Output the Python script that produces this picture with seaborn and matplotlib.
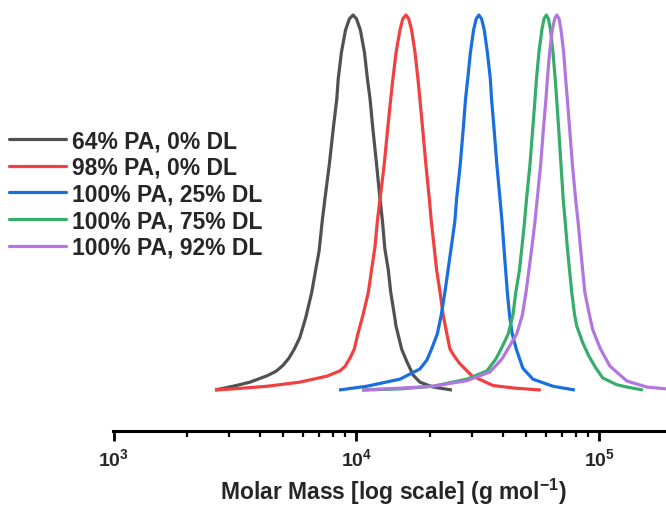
import matplotlib
matplotlib.use("Agg")
import matplotlib.pyplot as plt
import seaborn as sns
import pandas as pd
import numpy as np
from matplotlib.ticker import LogLocator, FuncFormatter, NullFormatter

# ---- data: log10(molar mass / g mol^-1) and normalised signal ----
labels = ["64% PA, 0% DL", "98% PA, 0% DL", "100% PA, 25% DL",
          "100% PA, 75% DL", "100% PA, 92% DL"]
colors = ["#515151", "#F14040", "#1A6FDF", "#37AD6B", "#B177DE"]

logmm_64pa_0dl = [3.418, 3.492, 3.562, 3.632, 3.669, 3.698, 3.722, 3.744, 3.767, 3.792,
                  3.816, 3.832, 3.846, 3.859, 3.870, 3.888, 3.905, 3.919, 3.925, 3.938,
                  3.955, 3.971, 3.986, 4.000, 4.016, 4.033, 4.045, 4.056, 4.067, 4.083,
                  4.097, 4.107, 4.117, 4.131, 4.141, 4.156, 4.163, 4.186, 4.208, 4.233,
                  4.261, 4.315, 4.393]
sig_64pa_0dl = [0, 0.01, 0.021, 0.038, 0.05, 0.066, 0.085, 0.109, 0.14, 0.195,
                0.261, 0.32, 0.37, 0.45, 0.509, 0.6, 0.7, 0.776, 0.83, 0.9,
                0.96, 0.99, 1.0, 0.99, 0.96, 0.9, 0.83, 0.776, 0.7, 0.6,
                0.509, 0.45, 0.376, 0.32, 0.261, 0.2, 0.17, 0.109, 0.075, 0.04,
                0.021, 0.008, 0]

logmm_98pa_0dl = [3.418, 3.492, 3.632, 3.767, 3.879, 3.932, 3.953, 3.973, 3.991, 4.006,
                  4.027, 4.049, 4.062, 4.076, 4.086, 4.097, 4.114, 4.129, 4.141, 4.150,
                  4.163, 4.179, 4.191, 4.204, 4.215, 4.227, 4.241, 4.253, 4.261, 4.272,
                  4.286, 4.300, 4.308, 4.320, 4.330, 4.344, 4.357, 4.372, 4.385, 4.405,
                  4.426, 4.475, 4.562, 4.652, 4.759]
sig_98pa_0dl = [0, 0.003, 0.01, 0.021, 0.037, 0.051, 0.063, 0.085, 0.109, 0.15,
                0.2, 0.261, 0.32, 0.38, 0.45, 0.509, 0.6, 0.7, 0.776, 0.83,
                0.9, 0.96, 0.99, 1.0, 0.99, 0.96, 0.9, 0.83, 0.776, 0.7,
                0.6, 0.509, 0.45, 0.38, 0.32, 0.261, 0.2, 0.15, 0.109, 0.088,
                0.07, 0.038, 0.012, 0.005, 0]

logmm_100pa_25dl = [3.928, 4.042, 4.179, 4.261, 4.290, 4.309, 4.333, 4.349, 4.364, 4.377,
                    4.390, 4.405, 4.412, 4.427, 4.440, 4.449, 4.458, 4.469, 4.482, 4.493,
                    4.504, 4.515, 4.526, 4.539, 4.551, 4.556, 4.566, 4.578, 4.591, 4.599,
                    4.607, 4.614, 4.621, 4.630, 4.641, 4.658, 4.685, 4.726, 4.809, 4.899]
sig_100pa_25dl = [0, 0.01, 0.029, 0.056, 0.08, 0.109, 0.15, 0.2, 0.261, 0.32,
                  0.38, 0.45, 0.509, 0.6, 0.7, 0.776, 0.83, 0.9, 0.96, 0.99,
                  1.0, 0.99, 0.96, 0.9, 0.83, 0.776, 0.7, 0.6, 0.509, 0.45,
                  0.38, 0.32, 0.261, 0.2, 0.15, 0.109, 0.058, 0.029, 0.01, 0]

logmm_100pa_75dl = [4.023, 4.179, 4.315, 4.455, 4.537, 4.574, 4.595, 4.625, 4.644, 4.656,
                    4.671, 4.681, 4.692, 4.700, 4.714, 4.726, 4.735, 4.741, 4.751, 4.763,
                    4.772, 4.782, 4.790, 4.799, 4.809, 4.818, 4.824, 4.832, 4.842, 4.851,
                    4.859, 4.868, 4.877, 4.886, 4.898, 4.907, 4.932, 4.957, 4.986, 5.014,
                    5.072, 5.113, 5.179]
sig_100pa_75dl = [0, 0.003, 0.01, 0.029, 0.051, 0.083, 0.109, 0.15, 0.2, 0.261,
                  0.32, 0.38, 0.45, 0.509, 0.6, 0.7, 0.776, 0.83, 0.9, 0.96,
                  0.99, 1.0, 0.99, 0.96, 0.9, 0.83, 0.776, 0.7, 0.6, 0.509,
                  0.45, 0.38, 0.32, 0.261, 0.2, 0.17, 0.125, 0.09, 0.058, 0.032,
                  0.014, 0.008, 0]

logmm_100pa_92dl = [4.023, 4.179, 4.315, 4.455, 4.549, 4.599, 4.623, 4.660, 4.683, 4.698,
                    4.710, 4.722, 4.735, 4.744, 4.758, 4.770, 4.780, 4.786, 4.795, 4.806,
                    4.816, 4.825, 4.834, 4.842, 4.853, 4.861, 4.868, 4.877, 4.889, 4.902,
                    4.912, 4.922, 4.931, 4.940, 4.959, 4.973, 5.004, 5.043, 5.113, 5.195,
                    5.274]
sig_100pa_92dl = [0, 0.005, 0.01, 0.025, 0.048, 0.083, 0.109, 0.15, 0.2, 0.261,
                  0.32, 0.38, 0.45, 0.509, 0.6, 0.7, 0.776, 0.83, 0.9, 0.96,
                  0.99, 1.0, 0.99, 0.96, 0.9, 0.83, 0.776, 0.7, 0.6, 0.509,
                  0.45, 0.38, 0.32, 0.261, 0.2, 0.16, 0.11, 0.064, 0.024, 0.008,
                  0.003]

series_logmm = [logmm_64pa_0dl, logmm_98pa_0dl, logmm_100pa_25dl,
                logmm_100pa_75dl, logmm_100pa_92dl]
series_sig = [sig_64pa_0dl, sig_98pa_0dl, sig_100pa_25dl, sig_100pa_75dl, sig_100pa_92dl]

frames = []
for lab, lm, sg in zip(labels, series_logmm, series_sig):
    frames.append(pd.DataFrame({"mm": np.power(10.0, lm), "sig": sg, "sample": lab}))
df = pd.concat(frames, ignore_index=True)

# ---- style ----
sns.set_style("white")
plt.rcParams["font.family"] = ["Liberation Sans", "DejaVu Sans"]
plt.rcParams["font.weight"] = "bold"
plt.rcParams["mathtext.fontset"] = "custom"
plt.rcParams["mathtext.rm"] = "Liberation Sans:bold"
plt.rcParams["mathtext.bf"] = "Liberation Sans:bold"
plt.rcParams["mathtext.it"] = "Liberation Sans:bold"

fig = plt.figure(figsize=(6.66, 5.06), dpi=100)
ax = fig.add_axes([113 / 666, 74 / 506, 1 - 113 / 666, 1 - 74 / 506])

sns.lineplot(data=df, x="mm", y="sig", hue="sample", palette=colors,
             hue_order=labels, sort=False, estimator=None, lw=2.3, ax=ax,
             legend=False)
for ln in ax.lines:
    ln.set_solid_joinstyle("round")
    ln.set_solid_capstyle("butt")

ax.set_xscale("log")
ax.set_xlim(995, 188000)
ax.set_ylim(-0.1093, 1.0427)

for s in ["left", "right", "top"]:
    ax.spines[s].set_visible(False)
ax.spines["bottom"].set_linewidth(2.2)
ax.spines["bottom"].set_color("black")

ax.set_yticks([])
ax.xaxis.set_major_locator(LogLocator(base=10, numticks=10))
ax.xaxis.set_major_formatter(FuncFormatter(
    lambda v, p: r"$\mathbf{10^{%d}}$" % int(round(np.log10(v)))))
ax.xaxis.set_minor_locator(LogLocator(base=10, subs=np.arange(2, 10), numticks=20))
ax.xaxis.set_minor_formatter(NullFormatter())
ax.tick_params(axis="x", which="major", direction="out", length=7, width=2,
               color="black", labelsize=14, pad=5, bottom=True)
ax.tick_params(axis="x", which="minor", direction="out", length=4, width=1.6,
               color="black", bottom=True)

ax.set_xlabel(r"Molar Mass [log scale] (g mol$^{\mathbf{-1}}$)",
              fontsize=16.5, fontweight="bold")
ax.xaxis.set_label_coords((393.5 - 113) / 553, -(492 - 432) / 432)
ax.xaxis.label.set_verticalalignment("center")
ax.set_ylabel("")

handles = [plt.Line2D([], [], color=c, lw=2.3) for c in colors]
leg = fig.legend(handles, labels, loc="upper left", bbox_to_anchor=(0.0, 1 - 121 / 506),
                 frameon=False, fontsize=16.5, handlelength=2.49, handletextpad=0.26,
                 labelspacing=0.16, borderaxespad=0.0, borderpad=0.4)
for t in leg.get_texts():
    t.set_fontweight("bold")

fig.savefig("out.png", dpi=100)
